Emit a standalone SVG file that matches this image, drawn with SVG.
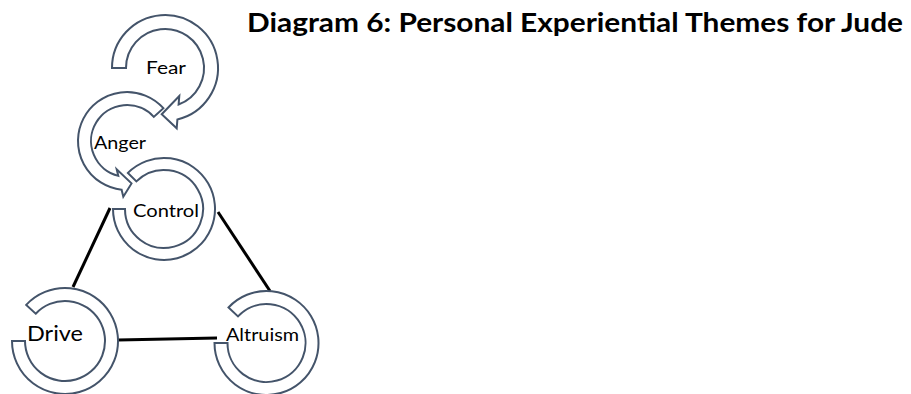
<svg xmlns="http://www.w3.org/2000/svg" width="911" height="394" viewBox="0 0 911 394">
<style>
.shape{fill:#ffffff;stroke:#44546a;stroke-width:2;stroke-linejoin:miter}
.lbl{font-family:Lato,"Open Sans","Liberation Sans",sans-serif;fill:#000000;text-anchor:start}
.title{font-family:Lato,"Open Sans","Liberation Sans",sans-serif;font-weight:bold;font-size:26px;fill:#000000}
.conn{stroke:#000000;stroke-width:3;fill:none;stroke-linecap:butt}
</style>
<rect width="911" height="394" fill="#ffffff"/>
<text class="title" x="247" y="32" textLength="656" lengthAdjust="spacingAndGlyphs">Diagram 6: Personal Experiential Themes for Jude</text>
<g id="connectors">
<line class="conn" x1="110" y1="208" x2="73" y2="287"/>
<line class="conn" x1="218" y1="212" x2="270" y2="291"/>
<line class="conn" x1="118" y1="340" x2="217" y2="338"/>
</g>
<g id="node-drive">
<path class="shape" d="M26.2,304.9 A53,53 0 1 1 12,341 L25,341 A40,40 0 1 0 35.7,313.7 Z"/>
<text class="lbl" x="27" y="341" font-size="22" textLength="56" lengthAdjust="spacingAndGlyphs">Drive</text>
</g>
<g id="node-altruism">
<path class="shape" d="M228.5,307.5 A52,52 0 1 1 214.5,343 L227.5,343 A39,39 0 1 0 238,316.4 Z"/>
<text class="lbl" x="226" y="341" font-size="18" textLength="73" lengthAdjust="spacingAndGlyphs">Altruism</text>
</g>
<g id="node-control">
<path class="shape" d="M127.9,172.9 A51,51 0 1 1 113,209 L125,209 A39,39 0 1 0 136.4,181.4 Z"/>
<text class="lbl" x="133" y="217" font-size="18" textLength="66" lengthAdjust="spacingAndGlyphs">Control</text>
</g>
<g id="node-anger">
<path class="shape" d="M163.4,108.2 A49,49 0 1 0 121.6,189.7 L123.3,196.7 L131.5,183.4 L116.7,169.3 L118.3,175.9 A36,36 0 1 1 153.8,116.9 Z"/>
<text class="lbl" x="94" y="149" font-size="18" textLength="52" lengthAdjust="spacingAndGlyphs">Anger</text>
</g>
<g id="node-fear">
<path class="shape" d="M112,68 A53,53 0 1 1 177.4,119.5 L176.7,128.3 L161.7,114.3 L179.3,96 L178.6,104.5 A39,39 0 1 0 126,68 Z"/>
<text class="lbl" x="146" y="74" font-size="18" textLength="40" lengthAdjust="spacingAndGlyphs">Fear</text>
</g>
</svg>
